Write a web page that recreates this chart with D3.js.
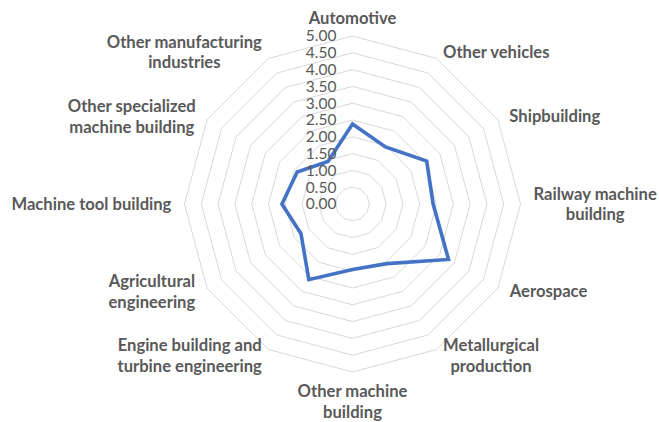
<!DOCTYPE html>
<html>
<head>
<meta charset="utf-8">
<script src="https://cdn.jsdelivr.net/npm/d3@7"></script>
<style>
  html, body { margin: 0; padding: 0; background: #ffffff; }
  svg { display: block; }
</style>
</head>
<body>
<svg id="chart" width="659" height="422"></svg>
<script>
// ---- data ----
const categories = [
  ["Automotive"],
  ["Other vehicles"],
  ["Shipbuilding"],
  ["Railway machine", "building"],
  ["Aerospace"],
  ["Metallurgical", "production"],
  ["Other machine", "building"],
  ["Engine building and", "turbine engineering"],
  ["Agricultural", "engineering"],
  ["Machine tool building"],
  ["Other specialized", "machine building"],
  ["Other manufacturing", "industries"]
];
const values = [2.38, 1.96, 2.55, 2.40, 3.30, 2.05, 1.95, 2.60, 1.77, 2.10, 1.90, 1.46];
const tickValues = [0, 0.5, 1, 1.5, 2, 2.5, 3, 3.5, 4, 4.5, 5];
const tickLabels = ["0.00","0.50","1.00","1.50","2.00","2.50","3.00","3.50","4.00","4.50","5.00"];

// ---- layout ----
const cx = 352.5, cy = 204, R = 168;
const svg = d3.select("#chart");
const r = d3.scaleLinear().domain([0, 5]).range([0, R]);
const angle = d3.scaleLinear().domain([0, categories.length]).range([0, 2 * Math.PI]);
const g = svg.append("g").attr("transform", `translate(${cx},${cy})`);

const pt = (i, v) => [Math.sin(angle(i)) * r(v), -Math.cos(angle(i)) * r(v)];

// grid rings (skip 0)
const ringLine = d3.line().curve(d3.curveLinearClosed);
tickValues.filter(t => t > 0).forEach(t => {
  g.append("path")
    .attr("d", ringLine(categories.map((c, i) => pt(i, t))))
    .attr("fill", "none")
    .attr("stroke", "#d9d9d9")
    .attr("stroke-width", 1);
});

// series
const radial = d3.lineRadial()
  .angle((d, i) => angle(i))
  .radius(d => r(d))
  .curve(d3.curveLinearClosed);
g.append("path")
  .attr("d", radial(values))
  .attr("fill", "none")
  .attr("stroke", "#4472C4")
  .attr("stroke-width", 3.6)
  .attr("stroke-linejoin", "miter");

// tick labels
g.selectAll("text.tick")
  .data(tickValues)
  .enter().append("text")
  .attr("class", "tick")
  .attr("x", -16)
  .attr("y", d => -r(d))
  .attr("dy", "0.35em")
  .attr("text-anchor", "end")
  .attr("font-family", "Lato, 'Open Sans', sans-serif")
  .attr("font-size", 15.5)
  .attr("fill", "#595959")
  .text((d, i) => tickLabels[i]);

// category labels
const lh = 20.5;
categories.forEach((lines, i) => {
  const a = angle(i);
  const [vx, vy] = pt(i, 5);
  const lg = g.append("g");
  const t = lg.append("text")
    .attr("text-anchor", "middle")
    .attr("font-family", "Lato, 'Open Sans', sans-serif")
    .attr("font-weight", "bold")
    .attr("font-size", 16.6)
    .attr("fill", "#595959");
  lines.forEach((l, k) => {
    t.append("tspan")
      .attr("x", 0)
      .attr("y", (k - (lines.length - 1) / 2) * lh)
      .attr("dy", "0.35em")
      .text(l);
  });
  const w = t.node().getBBox().width;
  const h = lines.length * lh;
  const s = Math.sin(a), c = Math.cos(a);
  let x, y;
  if (Math.abs(s) < 1e-6) {
    x = vx;
    y = c > 0 ? vy - 8 - h / 2 : vy + 9 + h / 2;
  } else {
    const edge = vx + 13 * s;
    x = s > 0 ? edge + w / 2 : edge - w / 2;
    y = vy - 7 * c;
  }
  lg.attr("transform", `translate(${x},${y})`);
});
</script>
</body>
</html>
